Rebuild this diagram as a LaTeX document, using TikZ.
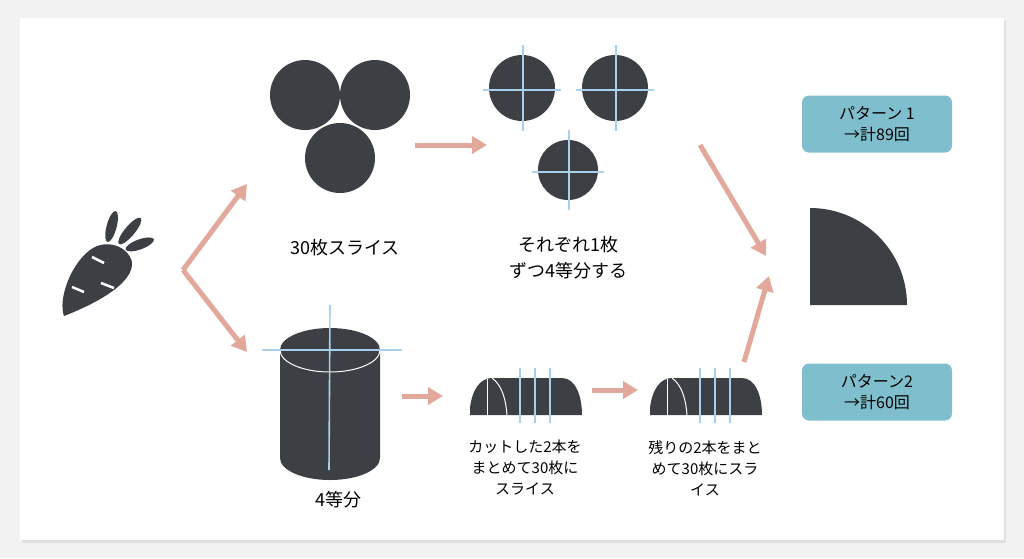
\documentclass[tikz,border=0pt]{standalone}
\usepackage{fontspec}
\newfontfamily\jpfont{Noto Sans CJK JP}
\usetikzlibrary{arrows.meta}
\definecolor{ink}{RGB}{60,63,67}
\definecolor{salmon}{RGB}{225,168,155}
\definecolor{cutblue}{RGB}{168,208,236}
\definecolor{teal}{RGB}{127,190,204}
\definecolor{bgray}{RGB}{242,242,242}
\tikzset{flow/.style={-{Triangle[length=15pt,width=17pt]}, salmon, line width=5pt}}
\tikzset{cut/.style={cutblue, line width=1.6pt}}
\tikzset{inner/.style={white, line width=1pt}}
\tikzset{label/.style={font=\jpfont\fontsize{15}{21}\selectfont, align=center, text=black}}
\tikzset{result/.style={fill=teal, rounded corners=7pt, minimum width=150pt, minimum height=57pt, align=center, font=\jpfont\fontsize{16}{21}\selectfont}}

\begin{document}
\begin{tikzpicture}[x=1pt,y=-1pt]
  \fill[bgray] (0,0) rectangle (1024,558);
  \fill[gray!25] (22,21) rectangle (1006,543);
  \fill[white] (20,18) rectangle (1004,540);

  % carrot
  \begin{scope}[ink]
    \fill (64,316) .. controls (58,300) and (70,265) .. (90,250)
      .. controls (106,238) and (128,246) .. (132,262)
      .. controls (134,282) and (100,302) .. (64,316) -- cycle;
    \fill[rotate around={-15:(108,240)}] (108,226) ellipse (5pt and 16pt);
    \fill[rotate around={-40:(118,242)}] (120,226) ellipse (5pt and 17pt);
    \fill[rotate around={-70:(124,248)}] (126,232) ellipse (5pt and 15pt);
    \draw[white, line width=2.5pt] (92,257) -- (104,263) (72,287) -- (84,292) (101,283) -- (114,288);
  \end{scope}

  % thirty slices
  \foreach \cx/\cy in {305/95, 375/95, 340/158}
    \fill[ink] (\cx,\cy) circle (35);
  \node[label, font=\jpfont\fontsize{18}{24}\selectfont] (slices) at (345,248) {30枚スライス};

  % quartered slices
  \foreach \cx/\cy/\r in {522/88/33, 615/88/33, 568/170/30} {
    \fill[ink] (\cx,\cy) circle (\r);
    \draw[cut] (\cx-\r-6,\cy+2) -- (\cx+\r+6,\cy+2);
    \draw[cut] (\cx+1,\cy-\r-10) -- (\cx+1,\cy+\r+10);
  }
  \node[label, font=\jpfont\fontsize{18}{26}\selectfont] (quarter) at (568,258) {それぞれ1枚\\ずつ4等分する};

  % cylinder
  \fill[ink] (280,350) arc (180:360:50 and 22) -- (380,458) arc (0:180:50 and 22) -- cycle;
  \draw[inner] (280,350) arc (180:0:50 and 22);
  \draw[cut] (262,350) -- (402,350);
  \draw[cut] (330,305) -- (329,470);
  \node[label, font=\jpfont\fontsize{18}{24}\selectfont] (fourths) at (338,500) {4等分};

  % half cylinders
  \foreach \ox in {0,180} {
    \begin{scope}[xshift=\ox]
      \fill[ink] (470,415) -- (470,408) .. controls (472,390) and (480,378) .. (492,378)
        -- (562,378) .. controls (575,378) and (582,395) .. (582,415) -- cycle;
      \draw[inner] (487,379) -- (487,415);
      \draw[inner] (492,378) .. controls (502,385) and (506,400) .. (507,415);
      \foreach \lx in {520,535,550}
        \draw[cut] (\lx,368) -- (\lx,423);
    \end{scope}
  }
  \node[label] (bundle) at (525,468) {カットした2本を\\まとめて30枚に\\スライス};
  \node[label] (rest) at (705,468) {残りの2本をまと\\めて30枚にスラ\\イス};

  % quarter piece
  \fill[ink] (810,305) -- (810,208) arc (270:360:97) -- cycle;

  \node[result] (pat1) at (877,124) {パターン 1\\→計89回};
  \node[result] (pat2) at (877,392) {パターン2\\→計60回};

  % arrows
  \coordinate (fork) at (183,270);
  \draw[flow] (fork) -- (247,184);
  \draw[flow] (fork) -- (247,352);
  \draw[flow] (415,145) -- (487,145);
  \draw[flow] (700,145) -- (766,256);
  \draw[flow] (744,362) -- (769,276);
  \draw[flow] (402,396) -- (443,396);
  \draw[flow] (592,390) -- (638,390);
\end{tikzpicture}
\end{document}
